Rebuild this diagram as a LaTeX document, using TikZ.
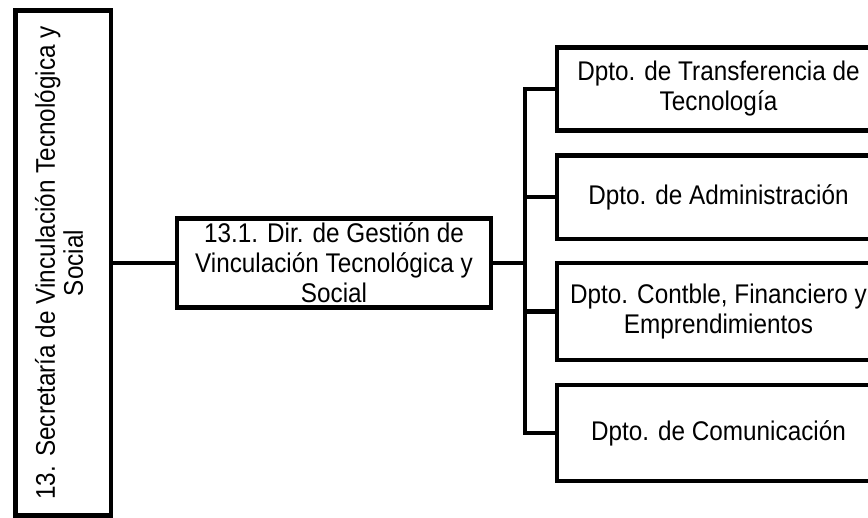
\documentclass[tikz,border=0pt]{standalone}
\usepackage{fontspec}
\setmainfont{Liberation Sans}[FakeStretch=0.9]
\usepackage{graphicx}
\begin{document}
\begin{tikzpicture}[x=1pt,y=-1pt,
  box/.style={draw=black, line width=4.5pt, fill=white, inner sep=0pt, align=center,
    font=\fontsize{27pt}{30pt}\selectfont},
  conn/.style={draw=black, line width=4.5pt, line join=miter}]
\useasboundingbox (0,0) rectangle (868,518);
\clip (0,0) rectangle (868,518);
% main boxes
\node[box, minimum width=95.5pt, minimum height=505pt] (sec) at (63,263)
  {\rotatebox{90}{\begin{tabular}{@{}c@{}}13. Secretaría de Vinculación Tecnológica y\\[-2pt] Social\end{tabular}}};
\node[box, minimum width=314pt, minimum height=89pt] (mid) at (334,263)
  {13.1. Dir. de Gestión de\\Vinculación Tecnológica y\\Social};
\node[box, minimum width=323pt, minimum height=83pt] (d1) at (718.5,89)
  {Dpto. de Transferencia de\\Tecnología};
\node[box, minimum width=323pt, minimum height=83.5pt] (d2) at (718.5,197.25)
  {Dpto. de Administración};
\node[box, minimum width=323pt, minimum height=97pt] (d3) at (718.5,311.5)
  {Dpto. Contble, Financiero y\\Emprendimientos};
\node[box, minimum width=323pt, minimum height=96pt] (d4) at (718.5,433)
  {Dpto. de Comunicación};
% trunk coordinate
\coordinate (t) at (525,263);
% connectors
\draw[conn] (mid.west) -- (mid.west -| sec.east);
\draw[conn] (mid.east) -- (mid.east -| t);
\draw[conn] (d1.west) -- (d1.west -| t) -- (d4.west -| t) -- (d4.west);
\draw[conn] (d2.west) -- (d2.west -| t);
\draw[conn] (d3.west) -- (d3.west -| t);
\end{tikzpicture}
\end{document}
